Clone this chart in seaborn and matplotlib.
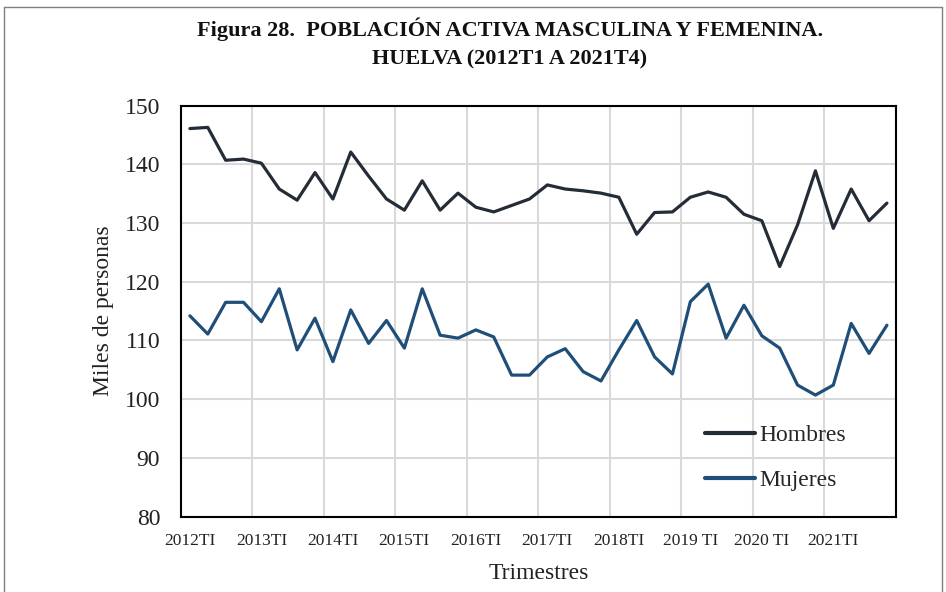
import numpy as np
import pandas as pd
import matplotlib
matplotlib.use("Agg")
import matplotlib.pyplot as plt
import seaborn as sns
from matplotlib.lines import Line2D

years = list(range(2012, 2022))
year_labels = ["2012TI", "2013TI", "2014TI", "2015TI", "2016TI", "2017TI",
               "2018TI", "2019 TI", "2020 TI", "2021TI"]
quarters = [f"{y}T{q}" for y in years for q in range(1, 5)]

hombres = [146.1, 146.3, 140.7, 140.9, 140.2, 135.8, 133.9, 138.6, 134.1, 142.1,
           138.0, 134.1, 132.2, 137.2, 132.2, 135.1, 132.7, 131.9, 133.0, 134.1,
           136.5, 135.8, 135.5, 135.1, 134.4, 128.1, 131.8, 131.9, 134.4, 135.3,
           134.4, 131.5, 130.4, 122.6, 129.7, 138.9, 129.1, 135.8, 130.4, 133.4]
mujeres = [114.2, 111.1, 116.5, 116.5, 113.2, 118.8, 108.4, 113.8, 106.4, 115.2,
           109.5, 113.4, 108.7, 118.8, 110.9, 110.4, 111.8, 110.6, 104.1, 104.1,
           107.2, 108.6, 104.7, 103.1, 108.4, 113.4, 107.2, 104.3, 116.6, 119.6,
           110.4, 116.0, 110.8, 108.7, 102.4, 100.7, 102.4, 112.9, 107.8, 112.6]

series_names = ["Hombres", "Mujeres"]
colors = ["#232C37", "#1F4E79"]

df = pd.DataFrame({
    "trimestre": quarters * 2,
    "pos": list(np.arange(len(quarters)) + 0.5) * 2,
    "valor": hombres + mujeres,
    "serie": [series_names[0]] * len(quarters) + [series_names[1]] * len(quarters),
})

sns.set_style("white")
plt.rcParams["font.family"] = ["Liberation Serif", "DejaVu Serif"]

fig = plt.figure(figsize=(9.46, 5.92), dpi=100)
ax = fig.add_axes([0.1913, 0.1274, 0.7557, 0.6941])

sns.lineplot(data=df, x="pos", y="valor", hue="serie", palette=colors,
             linewidth=2.3, ax=ax, legend=False, sort=False)

n = len(quarters)
ax.set_xlim(0, n)
ax.set_ylim(80, 150)
ax.set_yticks(np.arange(80, 151, 10))
ax.tick_params(axis="y", labelsize=17, length=0, pad=15, colors="#222222")

# major ticks at year boundaries (gridlines + tick marks), labels at first quarter centers
ax.set_xticks(np.arange(0, n + 1, 4))
ax.set_xticklabels([])
ax.set_xticks(np.arange(0, n, 4) + 0.5, minor=True)
ax.set_xticklabels(year_labels, minor=True, fontsize=12.5)
ax.tick_params(axis="x", which="major", length=6, width=1.2, color="black", direction="out")
ax.tick_params(axis="x", which="minor", length=0, pad=12, colors="#222222")

ax.grid(True, which="major", color="#D9D9D9", linewidth=1.5)
ax.set_axisbelow(True)
for s in ax.spines.values():
    s.set_color("black")
    s.set_linewidth(1.5)
    s.set_visible(True)

ax.set_xlabel("Trimestres", fontsize=17, labelpad=10, color="#222222")
ax.set_ylabel("Miles de personas", fontsize=17, labelpad=8, color="#222222")

handles = [Line2D([0], [0], color=c, lw=3) for c in colors]
ax.legend(handles, series_names, loc="center", bbox_to_anchor=(0.832, 0.143),
          frameon=False, fontsize=17, handlelength=2.1, handletextpad=0.2,
          labelspacing=1.0)

fig.text(0.539, 0.950, "Figura 28.  POBLACIÓN ACTIVA MASCULINA Y FEMENINA.",
         ha="center", va="center", fontsize=16, fontweight="bold", color="#111111")
fig.text(0.539, 0.899, "HUELVA (2012T1 A 2021T4)",
         ha="center", va="center", fontsize=16, fontweight="bold", color="#111111")

# outer frame of the chart area
frame_col = "#7F7F7F"
fig.add_artist(Line2D([4/946, 4/946], [0, 1 - 7/592], transform=fig.transFigure, color=frame_col, lw=1))
fig.add_artist(Line2D([4/946, 942/946], [1 - 7/592, 1 - 7/592], transform=fig.transFigure, color=frame_col, lw=1))
fig.add_artist(Line2D([942/946, 942/946], [0, 1 - 7/592], transform=fig.transFigure, color=frame_col, lw=1))

fig.savefig("out.png", dpi=100)
